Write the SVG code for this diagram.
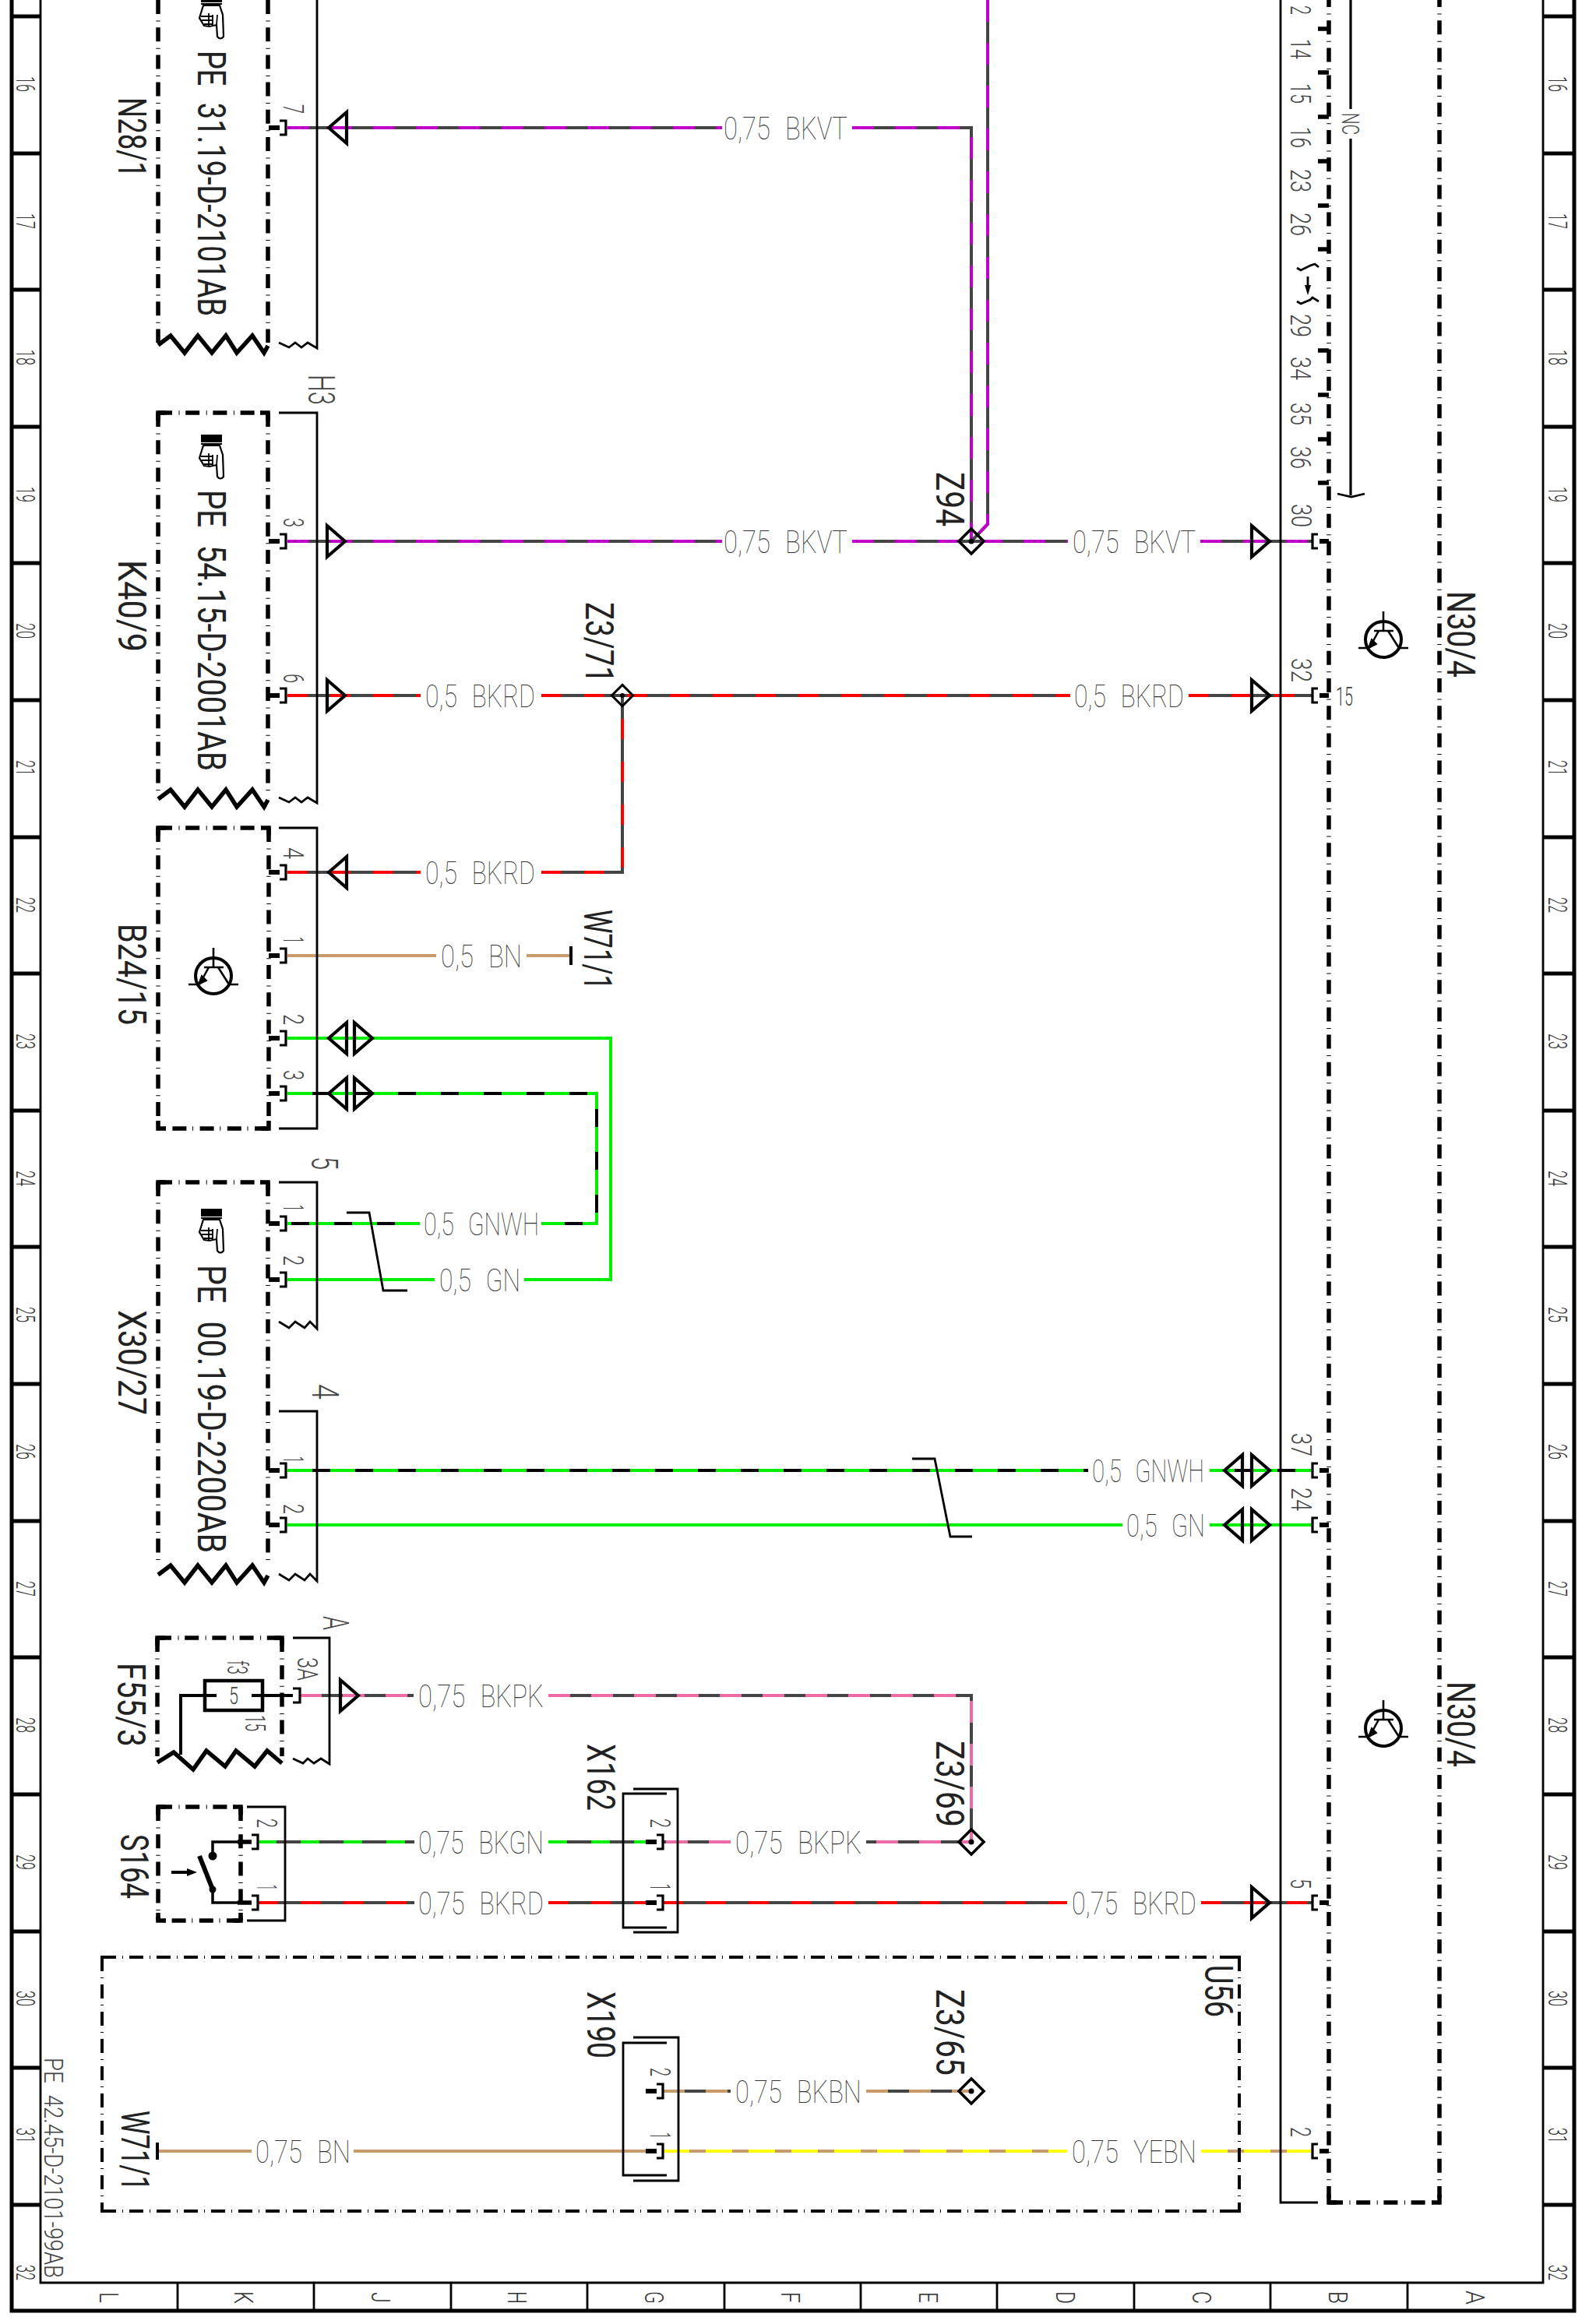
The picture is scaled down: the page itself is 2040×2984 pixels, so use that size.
<svg xmlns="http://www.w3.org/2000/svg" xmlns:xlink="http://www.w3.org/1999/xlink" width="2040" height="2984" viewBox="0 0 2040 2984">
<style>
text{font-family:Roboto,"Liberation Sans",sans-serif}
.w{font-size:41px;font-weight:100;fill:#333;word-spacing:14px}
.n{font-size:50px;font-weight:400;fill:#222;word-spacing:16px}
.p{font-size:36px;font-weight:300;fill:#444}
.g{font-size:34px;font-weight:300;fill:#333}
.f{fill:none;stroke:#000;stroke-width:2.8}
.fr{fill:none;stroke:#000;stroke-width:5}
.b{fill:none;stroke:#000;stroke-width:5.5;stroke-dasharray:18 8.5 1 7.7}
.c{fill:none;stroke:#000;stroke-width:5.5}
.u{fill:none;stroke:#000;stroke-width:4;stroke-dasharray:18 8 1 8}
.z{fill:none;stroke:#000;stroke-width:5.5}
.k{fill:none;stroke:#444;stroke-width:4}
.kb{fill:none;stroke:#000;stroke-width:4}
.tan{fill:none;stroke:#c89b6c;stroke-width:4}
.vt{fill:none;stroke:#c000c8;stroke-width:4;stroke-dasharray:28 27}
.rd{fill:none;stroke:#f00;stroke-width:4;stroke-dasharray:26 29}
.gn{fill:none;stroke:#0e0;stroke-width:4}
.gd{fill:none;stroke:#0e0;stroke-width:4;stroke-dasharray:32 23}
.gd2{fill:none;stroke:#0e0;stroke-width:4;stroke-dasharray:24 31}
.pk{fill:none;stroke:#ee6aa7;stroke-width:4;stroke-dasharray:28 27}
.ye{fill:none;stroke:#ff0;stroke-width:4;stroke-dasharray:34 21}
.bn{fill:none;stroke:#c89b6c;stroke-width:4;stroke-dasharray:28 27}
</style>
<defs>
<g id="lp"><path d="M-22,0H-8" stroke="#000" stroke-width="6"/><path d="M-8,-9H0V9H-8" fill="none" stroke="#000" stroke-width="3.2"/></g>
<g id="rp"><path d="M9,0H21" stroke="#000" stroke-width="6"/><path d="M7,-9H0V9H7" fill="none" stroke="#000" stroke-width="3.2"/></g>
<path id="al" d="M0,0L23,-20V20Z" fill="none" stroke="#000" stroke-width="4.2"/>
<path id="ar" d="M0,0L-23,-20V20Z" fill="none" stroke="#000" stroke-width="4.2"/>
<g id="tr" fill="none" stroke="#000"><circle r="23" stroke-width="4"/><path d="M0,-36V-11M-12,-11H13M-32,11H-19M20,11H32M6,-11L20,11" stroke-width="2.6"/><path d="M-6,-11L-18,11" stroke-width="2.6"/><path d="M-15,0L-19,11L-9,6Z" fill="#000" stroke-width="2"/></g>
<g id="hd"><rect x="-1" y="0" width="27" height="10" fill="#000"/><path d="M-1,12H26M2,14H23L27,26L28,54Q24,59 20,54L19,39L10,41L3,40L-3,30Z" fill="#fff" stroke="#000" stroke-width="2.2"/><path d="M-1,28H14M0,33H14M3,38H14M9,24V40M14,26V40M20,26L19,39" fill="none" stroke="#000" stroke-width="1.8"/></g>
<g id="jn"><path d="M0,-16L16,0L0,16L-16,0Z" fill="none" stroke="#000" stroke-width="3.6"/><circle r="3.5" fill="#000"/></g>
</defs>

<g id="frame">
<path class="fr" d="M15,0V2967H2021V0"/>
<path class="f" d="M52,0V2931H1981V0"/>
<path class="fr" d="M15,21H52M15,197H52M15,372H52M15,548H52M15,723H52M15,899H52M15,1075H52M15,1250H52M15,1426H52M15,1601H52M15,1777H52M15,1953H52M15,2128H52M15,2304H52M15,2480H52M15,2655H52M15,2831H52"/>
<path class="fr" d="M1981,21H2021M1981,197H2021M1981,372H2021M1981,548H2021M1981,723H2021M1981,899H2021M1981,1075H2021M1981,1250H2021M1981,1426H2021M1981,1601H2021M1981,1777H2021M1981,1953H2021M1981,2128H2021M1981,2304H2021M1981,2480H2021M1981,2655H2021M1981,2831H2021"/>
<path class="f" d="M228,2931V2967M403,2931V2967M579,2931V2967M754,2931V2967M930,2931V2967M1105,2931V2967M1280,2931V2967M1456,2931V2967M1631,2931V2967M1807,2931V2967"/>
<g class="g" text-anchor="middle">
<text transform="translate(21,108) rotate(90)" textLength="20" lengthAdjust="spacingAndGlyphs">16</text>
<text transform="translate(21,284) rotate(90)" textLength="20" lengthAdjust="spacingAndGlyphs">17</text>
<text transform="translate(21,459) rotate(90)" textLength="20" lengthAdjust="spacingAndGlyphs">18</text>
<text transform="translate(21,635) rotate(90)" textLength="20" lengthAdjust="spacingAndGlyphs">19</text>
<text transform="translate(21,810) rotate(90)" textLength="20" lengthAdjust="spacingAndGlyphs">20</text>
<text transform="translate(21,986) rotate(90)" textLength="20" lengthAdjust="spacingAndGlyphs">21</text>
<text transform="translate(21,1162) rotate(90)" textLength="20" lengthAdjust="spacingAndGlyphs">22</text>
<text transform="translate(21,1337) rotate(90)" textLength="20" lengthAdjust="spacingAndGlyphs">23</text>
<text transform="translate(21,1513) rotate(90)" textLength="20" lengthAdjust="spacingAndGlyphs">24</text>
<text transform="translate(21,1688) rotate(90)" textLength="20" lengthAdjust="spacingAndGlyphs">25</text>
<text transform="translate(21,1864) rotate(90)" textLength="20" lengthAdjust="spacingAndGlyphs">26</text>
<text transform="translate(21,2040) rotate(90)" textLength="20" lengthAdjust="spacingAndGlyphs">27</text>
<text transform="translate(21,2215) rotate(90)" textLength="20" lengthAdjust="spacingAndGlyphs">28</text>
<text transform="translate(21,2391) rotate(90)" textLength="20" lengthAdjust="spacingAndGlyphs">29</text>
<text transform="translate(21,2566) rotate(90)" textLength="20" lengthAdjust="spacingAndGlyphs">30</text>
<text transform="translate(21,2742) rotate(90)" textLength="20" lengthAdjust="spacingAndGlyphs">31</text>
<text transform="translate(21,2918) rotate(90)" textLength="20" lengthAdjust="spacingAndGlyphs">32</text>
<text transform="translate(1988,108) rotate(90)" textLength="20" lengthAdjust="spacingAndGlyphs">16</text>
<text transform="translate(1988,284) rotate(90)" textLength="20" lengthAdjust="spacingAndGlyphs">17</text>
<text transform="translate(1988,459) rotate(90)" textLength="20" lengthAdjust="spacingAndGlyphs">18</text>
<text transform="translate(1988,635) rotate(90)" textLength="20" lengthAdjust="spacingAndGlyphs">19</text>
<text transform="translate(1988,810) rotate(90)" textLength="20" lengthAdjust="spacingAndGlyphs">20</text>
<text transform="translate(1988,986) rotate(90)" textLength="20" lengthAdjust="spacingAndGlyphs">21</text>
<text transform="translate(1988,1162) rotate(90)" textLength="20" lengthAdjust="spacingAndGlyphs">22</text>
<text transform="translate(1988,1337) rotate(90)" textLength="20" lengthAdjust="spacingAndGlyphs">23</text>
<text transform="translate(1988,1513) rotate(90)" textLength="20" lengthAdjust="spacingAndGlyphs">24</text>
<text transform="translate(1988,1688) rotate(90)" textLength="20" lengthAdjust="spacingAndGlyphs">25</text>
<text transform="translate(1988,1864) rotate(90)" textLength="20" lengthAdjust="spacingAndGlyphs">26</text>
<text transform="translate(1988,2040) rotate(90)" textLength="20" lengthAdjust="spacingAndGlyphs">27</text>
<text transform="translate(1988,2215) rotate(90)" textLength="20" lengthAdjust="spacingAndGlyphs">28</text>
<text transform="translate(1988,2391) rotate(90)" textLength="20" lengthAdjust="spacingAndGlyphs">29</text>
<text transform="translate(1988,2566) rotate(90)" textLength="20" lengthAdjust="spacingAndGlyphs">30</text>
<text transform="translate(1988,2742) rotate(90)" textLength="20" lengthAdjust="spacingAndGlyphs">31</text>
<text transform="translate(1988,2918) rotate(90)" textLength="20" lengthAdjust="spacingAndGlyphs">32</text>
<text transform="translate(128,2950) rotate(90)" textLength="14" lengthAdjust="spacingAndGlyphs">L</text>
<text transform="translate(301,2950) rotate(90)" textLength="16" lengthAdjust="spacingAndGlyphs">K</text>
<text transform="translate(477,2950) rotate(90)" textLength="14" lengthAdjust="spacingAndGlyphs">J</text>
<text transform="translate(652,2950) rotate(90)" textLength="16" lengthAdjust="spacingAndGlyphs">H</text>
<text transform="translate(828,2950) rotate(90)" textLength="16" lengthAdjust="spacingAndGlyphs">G</text>
<text transform="translate(1003,2950) rotate(90)" textLength="14" lengthAdjust="spacingAndGlyphs">F</text>
<text transform="translate(1180,2950) rotate(90)" textLength="14" lengthAdjust="spacingAndGlyphs">E</text>
<text transform="translate(1356,2950) rotate(90)" textLength="16" lengthAdjust="spacingAndGlyphs">D</text>
<text transform="translate(1531,2950) rotate(90)" textLength="16" lengthAdjust="spacingAndGlyphs">C</text>
<text transform="translate(1706,2950) rotate(90)" textLength="16" lengthAdjust="spacingAndGlyphs">B</text>
<text transform="translate(1882,2950) rotate(90)" textLength="18" lengthAdjust="spacingAndGlyphs">A</text>
</g>
<text class="p" style="font-size:33px;word-spacing:10px" transform="translate(57,2642) rotate(90)" textLength="283" lengthAdjust="spacingAndGlyphs">PE 42.45-D-2101-99AB</text>
</g>

<g id="connectors">
<path class="k" d="M369,164H927M1094,164H1247V695M1268,0V673L1247,695M369,695H927M1094,695H1371M1541,695H1685"/>
<path class="vt" d="M369,164H927M1094,164H1247V695M1268,0V673L1247,695M369,695H927M1094,695H1371M1541,695H1685"/>
<path class="k" d="M369,893H540M695,893H1374M1526,893H1685M369,1120H540M695,1120H799V893"/>
<path class="rd" d="M369,893H540M695,893H1374M1526,893H1685M369,1120H540M695,1120H799V893"/>
<path class="tan" d="M369,1227H560M676,1227H733"/>
<path class="gn" d="M369,1333H784V1643H673M558,1643H369"/>
<path class="kb" d="M369,1404H766V1571H695M539,1571H369"/>
<path class="gd" d="M369,1404H766V1571H695M539,1571H369"/>
<path class="kb" d="M369,1888H1397M1553,1888H1685"/>
<path class="gd" d="M369,1888H1397M1553,1888H1685"/>
<path class="gn" d="M369,1958H1441M1553,1958H1685"/>
<path class="k" d="M385,2177H531M704,2177H1247V2365H1112M938,2365H851"/>
<path class="pk" d="M385,2177H531M704,2177H1247V2365H1112M938,2365H851"/>
<path class="k" d="M331,2365H532M704,2365H829"/>
<path class="gd2" d="M331,2365H532M704,2365H829"/>
<path class="k" d="M331,2443H532M704,2443H829M851,2443H1370M1542,2443H1685"/>
<path class="rd" d="M331,2443H532M704,2443H829M851,2443H1370M1542,2443H1685"/>
<path class="k" d="M851,2685H938M1112,2685H1247"/>
<path class="bn" d="M851,2685H938M1112,2685H1247"/>
<path class="tan" d="M202,2762H323M454,2762H829M851,2762H1370M1542,2762H1685"/>
<path class="ye" d="M851,2762H1370M1542,2762H1685"/>
<path d="M733,1215V1239M202,2751V2773" stroke="#000" stroke-width="4" fill="none"/>
<path d="M445,1557H474L492,1657H523M1171,1873H1200L1220,1973H1248" fill="none" stroke="#000" stroke-width="2.8"/>
<g class="w">
<text x="929" y="179" textLength="159" lengthAdjust="spacingAndGlyphs">0,75 BKVT</text>
<text x="929" y="710" textLength="159" lengthAdjust="spacingAndGlyphs">0,75 BKVT</text>
<text x="1377" y="710" textLength="158" lengthAdjust="spacingAndGlyphs">0,75 BKVT</text>
<text x="546" y="908" textLength="141" lengthAdjust="spacingAndGlyphs">0,5 BKRD</text>
<text x="1379" y="908" textLength="141" lengthAdjust="spacingAndGlyphs">0,5 BKRD</text>
<text x="546" y="1135" textLength="141" lengthAdjust="spacingAndGlyphs">0,5 BKRD</text>
<text x="566" y="1242" textLength="104" lengthAdjust="spacingAndGlyphs">0,5 BN</text>
<text x="544" y="1586" textLength="148" lengthAdjust="spacingAndGlyphs">0,5 GNWH</text>
<text x="564" y="1658" textLength="104" lengthAdjust="spacingAndGlyphs">0,5 GN</text>
<text x="1402" y="1903" textLength="144" lengthAdjust="spacingAndGlyphs">0,5 GNWH</text>
<text x="1446" y="1973" textLength="101" lengthAdjust="spacingAndGlyphs">0,5 GN</text>
<text x="537" y="2192" textLength="161" lengthAdjust="spacingAndGlyphs">0,75 BKPK</text>
<text x="537" y="2380" textLength="161" lengthAdjust="spacingAndGlyphs">0,75 BKGN</text>
<text x="944" y="2380" textLength="162" lengthAdjust="spacingAndGlyphs">0,75 BKPK</text>
<text x="537" y="2458" textLength="161" lengthAdjust="spacingAndGlyphs">0,75 BKRD</text>
<text x="1376" y="2458" textLength="160" lengthAdjust="spacingAndGlyphs">0,75 BKRD</text>
<text x="944" y="2700" textLength="162" lengthAdjust="spacingAndGlyphs">0,75 BKBN</text>
<text x="328" y="2777" textLength="122" lengthAdjust="spacingAndGlyphs">0,75 BN</text>
<text x="1376" y="2777" textLength="160" lengthAdjust="spacingAndGlyphs">0,75 YEBN</text>
</g>
<use xlink:href="#al" href="#al" x="422" y="164"/>
<use xlink:href="#ar" href="#ar" x="443" y="695"/>
<use xlink:href="#ar" href="#ar" x="443" y="893"/>
<use xlink:href="#al" href="#al" x="422" y="1120"/>
<use xlink:href="#al" href="#al" x="422" y="1333"/><use xlink:href="#ar" href="#ar" x="478" y="1333"/>
<use xlink:href="#al" href="#al" x="422" y="1404"/><use xlink:href="#ar" href="#ar" x="478" y="1404"/>
<use xlink:href="#ar" href="#ar" x="460" y="2177"/>
<use xlink:href="#ar" href="#ar" x="1630" y="695"/>
<use xlink:href="#ar" href="#ar" x="1630" y="893"/>
<use xlink:href="#al" href="#al" x="1572" y="1888"/><use xlink:href="#ar" href="#ar" x="1630" y="1888"/>
<use xlink:href="#al" href="#al" x="1572" y="1958"/><use xlink:href="#ar" href="#ar" x="1630" y="1958"/>
<use xlink:href="#ar" href="#ar" x="1630" y="2443"/>
</g>

<g id="N28-1">
<path class="b" d="M203,0V440M344,0V440"/>
<path class="z" d="M203,443L219,431L237,453L254,431L272,453L290,431L304,453L324,431L339,453L344,444"/>
<path class="f" d="M407,0V447L395,440L387,446L379,440L371,446L358,440"/>
<use xlink:href="#lp" href="#lp" x="367" y="164"/>
<use xlink:href="#hd" href="#hd" x="259" y="-7"/>
<text class="p" transform="translate(364,134) rotate(90)" textLength="12" lengthAdjust="spacingAndGlyphs">7</text>
<text class="n" transform="translate(254,65) rotate(90)" textLength="341" lengthAdjust="spacingAndGlyphs">PE 31.19-D-2101AB</text>
<text class="n" transform="translate(152,125) rotate(90)" textLength="103" lengthAdjust="spacingAndGlyphs">N28/1</text>
</g>

<g id="K40-9">
<path class="b" d="M203,530H344M203,530V1020M344,530V1020"/>
<path class="c" d="M203,540V530H213M334,530H344V540"/>
<path class="z" d="M203,1026L219,1014L237,1036L254,1014L272,1036L290,1014L304,1036L324,1014L339,1036L344,1027"/>
<path class="f" d="M358,530H407V1031L395,1024L387,1030L379,1024L371,1030L358,1024"/>
<use xlink:href="#lp" href="#lp" x="367" y="695"/>
<use xlink:href="#lp" href="#lp" x="367" y="893"/>
<use xlink:href="#hd" href="#hd" x="259" y="558"/>
<text class="p" style="font-size:48px" transform="translate(396,481) rotate(90)" textLength="39" lengthAdjust="spacingAndGlyphs">H3</text>
<text class="p" transform="translate(364,665) rotate(90)" textLength="12" lengthAdjust="spacingAndGlyphs">3</text>
<text class="p" transform="translate(364,865) rotate(90)" textLength="12" lengthAdjust="spacingAndGlyphs">6</text>
<text class="n" transform="translate(254,629) rotate(90)" textLength="361" lengthAdjust="spacingAndGlyphs">PE 54.15-D-2001AB</text>
<text class="n" transform="translate(152,719) rotate(90)" textLength="118" lengthAdjust="spacingAndGlyphs">K40/9</text>
</g>

<g id="B24-15">
<path class="b" d="M203,1063H345M345,1449H203M203,1063V1449M345,1063V1449"/>
<path class="c" d="M203,1073V1063H213M335,1063H345V1073M203,1439V1449H213M335,1449H345V1439"/>
<path class="f" d="M358,1063H407V1449H358"/>
<use xlink:href="#lp" href="#lp" x="367" y="1120"/>
<use xlink:href="#lp" href="#lp" x="367" y="1227"/>
<use xlink:href="#lp" href="#lp" x="367" y="1333"/>
<use xlink:href="#lp" href="#lp" x="367" y="1404"/>
<use xlink:href="#tr" href="#tr" x="274" y="1253"/>
<text class="p" transform="translate(364,1088) rotate(90)" textLength="15" lengthAdjust="spacingAndGlyphs">4</text>
<text class="p" transform="translate(364,1203) rotate(90)" textLength="8" lengthAdjust="spacingAndGlyphs">1</text>
<text class="p" transform="translate(364,1302) rotate(90)" textLength="14" lengthAdjust="spacingAndGlyphs">2</text>
<text class="p" transform="translate(364,1374) rotate(90)" textLength="13" lengthAdjust="spacingAndGlyphs">3</text>
<text class="n" transform="translate(152,1186) rotate(90)" textLength="130" lengthAdjust="spacingAndGlyphs">B24/15</text>
</g>

<g id="X30-27">
<path class="b" d="M203,1518H344M203,1518V2005M344,1518V2005"/>
<path class="c" d="M203,1528V1518H213M334,1518H344V1528"/>
<path class="z" d="M203,2022L219,2010L237,2032L254,2010L272,2032L290,2010L304,2032L324,2010L339,2032L344,2023"/>
<path class="f" d="M358,1518H407V1706L398,1697L391,1705L379,1697L371,1705L358,1697"/>
<path class="f" d="M358,1812H407V2030L398,2021L391,2029L379,2021L371,2029L358,2021"/>
<use xlink:href="#lp" href="#lp" x="367" y="1571"/>
<use xlink:href="#lp" href="#lp" x="367" y="1643"/>
<use xlink:href="#lp" href="#lp" x="367" y="1888"/>
<use xlink:href="#lp" href="#lp" x="367" y="1958"/>
<use xlink:href="#hd" href="#hd" x="259" y="1552"/>
<text class="p" style="font-size:48px" transform="translate(400,1485) rotate(90)" textLength="17" lengthAdjust="spacingAndGlyphs">5</text>
<text class="p" style="font-size:48px" transform="translate(401,1777) rotate(90)" textLength="20" lengthAdjust="spacingAndGlyphs">4</text>
<text class="p" transform="translate(364,1547) rotate(90)" textLength="8" lengthAdjust="spacingAndGlyphs">1</text>
<text class="p" transform="translate(364,1612) rotate(90)" textLength="13" lengthAdjust="spacingAndGlyphs">2</text>
<text class="p" transform="translate(364,1870) rotate(90)" textLength="8" lengthAdjust="spacingAndGlyphs">1</text>
<text class="p" transform="translate(364,1931) rotate(90)" textLength="13" lengthAdjust="spacingAndGlyphs">2</text>
<text class="n" transform="translate(254,1624) rotate(90)" textLength="370" lengthAdjust="spacingAndGlyphs">PE 00.19-D-2200AB</text>
<text class="n" transform="translate(152,1682) rotate(90)" textLength="135" lengthAdjust="spacingAndGlyphs">X30/27</text>
</g>

<g id="F55-3">
<path class="b" d="M202,2103H362M202,2103V2255M362,2103V2255"/>
<path class="c" d="M202,2113V2103H212M352,2103H362V2113"/>
<path class="z" d="M202,2263L223,2250L248,2272L265,2248L289,2268L303,2248L327,2268L343,2248L362,2264"/>
<path class="f" d="M376,2103H423V2265L412,2258L403,2264L395,2258L389,2264L376,2258"/>
<rect x="263" y="2158" width="74" height="38" fill="none" stroke="#000" stroke-width="4.5"/>
<path d="M232,2253V2177H278M323,2177H376" fill="none" stroke="#000" stroke-width="4"/>
<path d="M376,2168H385V2186H376" fill="none" stroke="#000" stroke-width="3.2"/>
<text class="p" style="font-size:31px" x="294" y="2188" textLength="12" lengthAdjust="spacingAndGlyphs">5</text>
<text class="p" transform="translate(292,2132) rotate(90)" textLength="18" lengthAdjust="spacingAndGlyphs">f3</text>
<text class="p" transform="translate(315,2202) rotate(90)" textLength="21" lengthAdjust="spacingAndGlyphs">15</text>
<text class="p" transform="translate(382,2128) rotate(90)" textLength="30" lengthAdjust="spacingAndGlyphs">3A</text>
<text class="p" style="font-size:46px" transform="translate(415,2075) rotate(90)" textLength="18" lengthAdjust="spacingAndGlyphs">A</text>
<text class="n" transform="translate(151,2135) rotate(90)" textLength="108" lengthAdjust="spacingAndGlyphs">F55/3</text>
</g>

<g id="S164">
<path class="b" d="M203,2320H309M309,2466H203M203,2320V2466M309,2320V2466"/>
<path class="c" d="M203,2330V2320H213M299,2320H309V2330M203,2456V2466H213M299,2466H309V2456"/>
<path class="f" d="M317,2320H366V2466H317"/>
<path d="M273,2383V2365H323M273,2426V2443H323" fill="none" stroke="#000" stroke-width="3.5"/>
<path d="M305,2365H323M305,2443H323" fill="none" stroke="#000" stroke-width="5.5"/>
<path d="M323,2356H331V2374H323M323,2434H331V2452H323" fill="none" stroke="#000" stroke-width="3.2"/>
<circle cx="273" cy="2383" r="5.5" fill="#000"/>
<path d="M256,2383L273,2426" stroke="#000" stroke-width="6" fill="none"/>
<circle cx="273" cy="2426" r="4.5" fill="#000"/>
<path d="M220,2404H242" stroke="#000" stroke-width="4"/><path d="M240,2399L253,2404L240,2409Z" fill="#000"/>
<text class="p" transform="translate(330,2335) rotate(90)" textLength="12" lengthAdjust="spacingAndGlyphs">2</text>
<text class="p" transform="translate(330,2420) rotate(90)" textLength="7" lengthAdjust="spacingAndGlyphs">1</text>
<text class="n" transform="translate(155,2355) rotate(90)" textLength="83" lengthAdjust="spacingAndGlyphs">S164</text>
</g>

<g id="X162">
<path class="f" d="M856,2303H800V2475H856M813,2297H870V2481H813"/>
<use xlink:href="#lp" href="#lp" x="851" y="2365"/>
<use xlink:href="#lp" href="#lp" x="851" y="2443"/>
<text class="p" transform="translate(835,2335) rotate(90)" textLength="12" lengthAdjust="spacingAndGlyphs">2</text>
<text class="p" transform="translate(835,2419) rotate(90)" textLength="8" lengthAdjust="spacingAndGlyphs">1</text>
<text class="n" transform="translate(754,2239) rotate(90)" textLength="86" lengthAdjust="spacingAndGlyphs">X162</text>
</g>

<g id="X190">
<path class="f" d="M856,2623H800V2793H856M813,2616H871V2800H813"/>
<use xlink:href="#lp" href="#lp" x="851" y="2685"/>
<use xlink:href="#lp" href="#lp" x="851" y="2762"/>
<text class="p" transform="translate(835,2655) rotate(90)" textLength="11" lengthAdjust="spacingAndGlyphs">2</text>
<text class="p" transform="translate(835,2738) rotate(90)" textLength="8" lengthAdjust="spacingAndGlyphs">1</text>
<text class="n" transform="translate(754,2557) rotate(90)" textLength="86" lengthAdjust="spacingAndGlyphs">X190</text>
</g>

<g id="U56">
<path class="u" d="M131,2513H1591M131,2839H1591M131,2513V2839M1591,2513V2839"/>
<path d="M131,2523V2513H141M1581,2513H1591V2523M131,2829V2839H141M1581,2839H1591V2829" fill="none" stroke="#000" stroke-width="4"/>
<text class="n" transform="translate(1547,2523) rotate(90)" textLength="67" lengthAdjust="spacingAndGlyphs">U56</text>
</g>

<g id="W71-1a"><text class="n" transform="translate(750,1168) rotate(90)" textLength="103" lengthAdjust="spacingAndGlyphs">W71/1</text></g>
<g id="W71-1b"><text class="n" transform="translate(156,2710) rotate(90)" textLength="103" lengthAdjust="spacingAndGlyphs">W71/1</text></g>
<g id="Z94"><use xlink:href="#jn" href="#jn" x="1247" y="695"/><text class="n" transform="translate(1202,606) rotate(90)" textLength="70" lengthAdjust="spacingAndGlyphs">Z94</text></g>
<g id="Z3-71"><use xlink:href="#jn" href="#jn" transform="translate(799,893) scale(.85)"/><text class="n" transform="translate(752,773) rotate(90)" textLength="104" lengthAdjust="spacingAndGlyphs">Z3/71</text></g>
<g id="Z3-69"><use xlink:href="#jn" href="#jn" x="1247" y="2365"/><text class="n" transform="translate(1202,2235) rotate(90)" textLength="111" lengthAdjust="spacingAndGlyphs">Z3/69</text></g>
<g id="Z3-65"><use xlink:href="#jn" href="#jn" x="1247" y="2685"/><text class="n" transform="translate(1202,2554) rotate(90)" textLength="111" lengthAdjust="spacingAndGlyphs">Z3/65</text></g>

<g id="N30-4">
<path class="b" d="M1706,-9V2822M1848,-9V2822M1706,2828H1848"/>
<path class="c" d="M1706,2818V2828H1716M1838,2828H1848V2818"/>
<path class="f" d="M1644,0V2828H1692"/>
<path d="M1692,37H1706M1692,93H1706M1692,150H1706M1692,207H1706M1692,264H1706M1692,320H1706M1692,450H1706M1692,507H1706M1692,564H1706M1692,620H1706" stroke="#000" stroke-width="5.5"/>
<path d="M1734,0V140M1734,178V636" fill="none" stroke="#000" stroke-width="3.2"/>
<path d="M1717,634L1735,638L1752,634" fill="none" stroke="#000" stroke-width="2.8"/>
<path d="M1665,344L1670,347L1682,341L1688,339L1693,343M1665,387L1670,390L1682,385L1685,382L1693,387" fill="none" stroke="#000" stroke-width="2.8"/>
<path d="M1679,355V368" stroke="#000" stroke-width="2.8"/><path d="M1675,366H1683L1679,379Z" fill="#000"/>
<use xlink:href="#rp" href="#rp" x="1685" y="695"/>
<use xlink:href="#rp" href="#rp" x="1685" y="893"/>
<use xlink:href="#rp" href="#rp" x="1685" y="1888"/>
<use xlink:href="#rp" href="#rp" x="1685" y="1958"/>
<use xlink:href="#rp" href="#rp" x="1685" y="2443"/>
<use xlink:href="#rp" href="#rp" x="1685" y="2762"/>
<use xlink:href="#tr" href="#tr" x="1776" y="821"/>
<use xlink:href="#tr" href="#tr" x="1776" y="2219"/>
<text class="p" transform="translate(1657,7) rotate(90)" textLength="12" lengthAdjust="spacingAndGlyphs">2</text>
<text class="p" transform="translate(1657,50) rotate(90)" textLength="26" lengthAdjust="spacingAndGlyphs">14</text>
<text class="p" transform="translate(1657,107) rotate(90)" textLength="26" lengthAdjust="spacingAndGlyphs">15</text>
<text class="p" transform="translate(1657,163) rotate(90)" textLength="27" lengthAdjust="spacingAndGlyphs">16</text>
<text class="p" transform="translate(1657,217) rotate(90)" textLength="30" lengthAdjust="spacingAndGlyphs">23</text>
<text class="p" transform="translate(1657,273) rotate(90)" textLength="30" lengthAdjust="spacingAndGlyphs">26</text>
<text class="p" transform="translate(1657,403) rotate(90)" textLength="30" lengthAdjust="spacingAndGlyphs">29</text>
<text class="p" transform="translate(1657,458) rotate(90)" textLength="30" lengthAdjust="spacingAndGlyphs">34</text>
<text class="p" transform="translate(1657,517) rotate(90)" textLength="29" lengthAdjust="spacingAndGlyphs">35</text>
<text class="p" transform="translate(1657,573) rotate(90)" textLength="29" lengthAdjust="spacingAndGlyphs">36</text>
<text class="p" transform="translate(1658,647) rotate(90)" textLength="30" lengthAdjust="spacingAndGlyphs">30</text>
<text class="p" transform="translate(1658,845) rotate(90)" textLength="31" lengthAdjust="spacingAndGlyphs">32</text>
<text class="p" transform="translate(1658,1840) rotate(90)" textLength="30" lengthAdjust="spacingAndGlyphs">37</text>
<text class="p" transform="translate(1658,1910) rotate(90)" textLength="30" lengthAdjust="spacingAndGlyphs">24</text>
<text class="p" transform="translate(1657,2412) rotate(90)" textLength="13" lengthAdjust="spacingAndGlyphs">5</text>
<text class="p" transform="translate(1657,2731) rotate(90)" textLength="13" lengthAdjust="spacingAndGlyphs">2</text>
<text class="p" style="font-size:31px" transform="translate(1723,145) rotate(90)" textLength="28" lengthAdjust="spacingAndGlyphs">NC</text>
<text class="p" style="font-size:33px" x="1715" y="906" textLength="22" lengthAdjust="spacingAndGlyphs">15</text>
<text class="n" transform="translate(1858,759) rotate(90)" textLength="111" lengthAdjust="spacingAndGlyphs">N30/4</text>
<text class="n" transform="translate(1858,2159) rotate(90)" textLength="110" lengthAdjust="spacingAndGlyphs">N30/4</text>
</g>
</svg>
